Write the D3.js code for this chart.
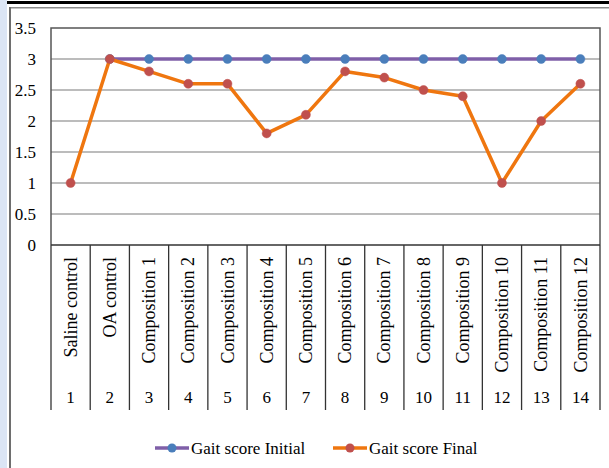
<!DOCTYPE html>
<html>
<head>
<meta charset="utf-8">
<script src="https://cdn.jsdelivr.net/npm/d3@7"></script>
<style>
  html, body { margin: 0; padding: 0; background: #fff; }
  svg { display: block; }
  text { font-family: "Liberation Serif", "Times New Roman", serif; fill: #000; }
</style>
</head>
<body>
<svg id="chart" width="609" height="468"></svg>
<script>
// Category labels (first level) and their group numbers (second level)
const categories = [
  "Saline control", "OA control", "Composition 1", "Composition 2", "Composition 3",
  "Composition 4", "Composition 5", "Composition 6", "Composition 7", "Composition 8",
  "Composition 9", "Composition 10", "Composition 11", "Composition 12"
];
const groupNumbers = ["1", "2", "3", "4", "5", "6", "7", "8", "9", "10", "11", "12", "13", "14"];

// Gait scores
const gaitInitial = [null, 3, 3, 3, 3, 3, 3, 3, 3, 3, 3, 3, 3, 3];
const gaitFinal   = [1, 3, 2.8, 2.6, 2.6, 1.8, 2.1, 2.8, 2.7, 2.5, 2.4, 1.0, 2.0, 2.6];

const yTicks = [0, 0.5, 1, 1.5, 2, 2.5, 3, 3.5];
const seriesNames = ["Gait score Initial", "Gait score Final"];

const svg = d3.select("#chart");
const W = 609, H = 468;
const plot = { left: 51, right: 600, top: 28, bottom: 245 };

// Outer frame decoration
svg.append("rect").attr("x", 0).attr("y", 0).attr("width", 7).attr("height", H).attr("fill", "#dbe5f5");
svg.append("rect").attr("x", 7).attr("y", 1).attr("width", W - 7).attr("height", 3).attr("fill", "#000");
svg.append("rect").attr("x", 9).attr("y", 7).attr("width", W - 9).attr("height", 1.5).attr("fill", "#8a8a8a");
svg.append("rect").attr("x", 9).attr("y", 7).attr("width", 2).attr("height", H - 7).attr("fill", "#6e6e6e");

const x = d3.scaleBand().domain(categories).range([plot.left, plot.right]).padding(0);
const y = d3.scaleLinear().domain([0, 3.5]).range([plot.bottom, plot.top]);
const cx = c => x(c) + x.bandwidth() / 2;

// Gridlines
svg.append("g").selectAll("line").data(yTicks.filter(t => t > 0 && t < 3.5)).join("line")
  .attr("x1", plot.left).attr("x2", plot.right)
  .attr("y1", d => y(d)).attr("y2", d => y(d))
  .attr("stroke", "#a6a6a6").attr("stroke-width", 1.5);

// Y axis labels
const yAxis = d3.axisLeft(y).tickValues(yTicks).tickSize(0).tickPadding(0).tickFormat(d3.format("~g"));
const gy = svg.append("g").attr("transform", `translate(${plot.left - 15},0)`).call(yAxis);
gy.select(".domain").remove();
gy.selectAll("text").style("font-size", "17px").style("font-family", "'Liberation Serif', 'Times New Roman', serif").attr("fill", "#000");

// Plot border (top, left, right)
svg.append("path")
  .attr("d", `M${plot.left},${plot.bottom}V${plot.top}H${plot.right}V${plot.bottom}`)
  .attr("fill", "none").attr("stroke", "#555").attr("stroke-width", 1.5);

// Category axis (multi-level table)
const tableBottom = 410;
svg.append("line").attr("x1", plot.left).attr("x2", plot.right)
  .attr("y1", plot.bottom).attr("y2", plot.bottom).attr("stroke", "#333").attr("stroke-width", 1.5);
const edges = categories.map(c => x(c)).concat([plot.right]);
svg.append("g").selectAll("line").data(edges).join("line")
  .attr("x1", d => d).attr("x2", d => d)
  .attr("y1", plot.bottom).attr("y2", tableBottom)
  .attr("stroke", "#333").attr("stroke-width", 1.3);

svg.append("g").selectAll("text").data(categories).join("text")
  .attr("transform", d => `translate(${cx(d)},257) rotate(-90)`)
  .attr("text-anchor", "end").attr("dy", "0.34em")
  .style("font-size", "18px")
  .text(d => d);

svg.append("g").selectAll("text").data(groupNumbers).join("text")
  .attr("x", (d, i) => cx(categories[i])).attr("y", 403)
  .attr("text-anchor", "middle")
  .style("font-size", "17px")
  .text(d => d);

// Series
const series = [
  { name: seriesNames[0], values: gaitInitial, line: "#7f5fa8", marker: "#4a7ebb" },
  { name: seriesNames[1], values: gaitFinal, line: "#ef760f", marker: "#c0504d" }
];

const lineGen = d3.line()
  .defined(d => d.v != null)
  .x(d => cx(d.c)).y(d => y(d.v));

series.forEach(s => {
  const pts = categories.map((c, i) => ({ c, v: s.values[i] }));
  svg.append("path").datum(pts)
    .attr("d", lineGen).attr("fill", "none")
    .attr("stroke", s.line).attr("stroke-width", 3.5).attr("stroke-linejoin", "round");
  svg.append("g").selectAll("circle").data(pts.filter(p => p.v != null)).join("circle")
    .attr("cx", p => cx(p.c)).attr("cy", p => y(p.v)).attr("r", 4.5)
    .attr("fill", s.marker).attr("stroke", s.marker).attr("stroke-opacity", 0.5).attr("stroke-width", 1);
});

// Legend
const legendY = 448;
const legendX = [155, 333];
series.forEach((s, i) => {
  const g = svg.append("g").attr("transform", `translate(${legendX[i]},${legendY})`);
  g.append("line").attr("x1", 0).attr("x2", 34).attr("y1", 0).attr("y2", 0)
    .attr("stroke", s.line).attr("stroke-width", 3.5);
  g.append("circle").attr("cx", 17).attr("cy", 0).attr("r", 4.5).attr("fill", s.marker);
  g.append("text").attr("x", 36).attr("y", 0).attr("dy", "0.33em")
    .style("font-size", "17px").text(s.name);
});
</script>
</body>
</html>
